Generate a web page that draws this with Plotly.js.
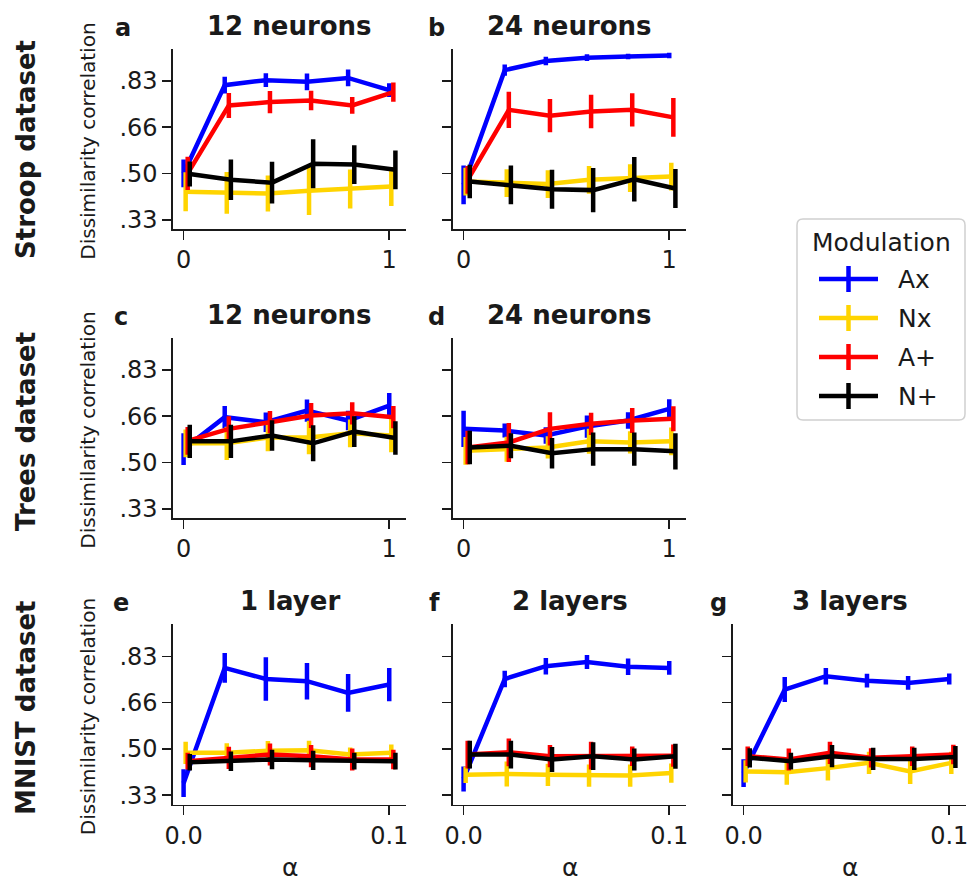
<!DOCTYPE html>
<html>
<head>
<meta charset="utf-8">
<script src="https://cdn.plot.ly/plotly-3.0.1.min.js"></script>
<style>
  html, body { margin: 0; padding: 0; background: #ffffff; }
  #chart { width: 970px; height: 883px; }
</style>
</head>
<body>
<div id="chart"></div>
<script>
// Modulation variants, drawn in this order (later ones on top)
const seriesNames = ['Ax', 'Nx', 'A+', 'N+'];
const seriesColors = ['#0000ff', '#ffd400', '#ff0000', '#000000'];

// Alpha values of the two sweeps
const alphaStroopTrees = [0, 0.2, 0.4, 0.6, 0.8, 1.0];
const alphaMnist = [0, 0.02, 0.04, 0.06, 0.08, 0.1];

// Y axis ticks
const yTickVals = [1 / 3, 1 / 2, 2 / 3, 5 / 6];
const yTickText = ['.33', '.50', '.66', '.83'];

// Mean dissimilarity correlation, one row per modulation (Ax, Nx, A+, N+)
const stroop12Mean = [
  [0.500, 0.818, 0.836, 0.830, 0.844, 0.800],
  [0.434, 0.430, 0.428, 0.438, 0.444, 0.453],
  [0.500, 0.745, 0.757, 0.763, 0.745, 0.793],
  [0.498, 0.477, 0.467, 0.535, 0.532, 0.513]
];
const stroop12Err = [
  [0.050, 0.030, 0.025, 0.030, 0.030, 0.025],
  [0.070, 0.075, 0.065, 0.088, 0.070, 0.070],
  [0.060, 0.045, 0.040, 0.035, 0.030, 0.035],
  [0.045, 0.073, 0.075, 0.088, 0.070, 0.070]
];

const stroop24Mean = [
  [0.459, 0.872, 0.905, 0.917, 0.921, 0.925],
  [0.471, 0.465, 0.462, 0.477, 0.483, 0.489],
  [0.477, 0.729, 0.708, 0.723, 0.729, 0.702],
  [0.471, 0.459, 0.443, 0.440, 0.479, 0.446]
];
const stroop24Err = [
  [0.070, 0.020, 0.015, 0.012, 0.010, 0.010],
  [0.050, 0.050, 0.050, 0.050, 0.050, 0.050],
  [0.050, 0.065, 0.060, 0.060, 0.060, 0.070],
  [0.060, 0.070, 0.070, 0.080, 0.080, 0.070]
];

const trees12Mean = [
  [0.548, 0.663, 0.645, 0.687, 0.651, 0.705],
  [0.569, 0.569, 0.590, 0.590, 0.605, 0.597],
  [0.578, 0.621, 0.645, 0.669, 0.677, 0.663],
  [0.576, 0.576, 0.597, 0.569, 0.611, 0.588]
];
const trees12Err = [
  [0.057, 0.040, 0.035, 0.040, 0.035, 0.045],
  [0.050, 0.060, 0.050, 0.060, 0.050, 0.060],
  [0.050, 0.045, 0.040, 0.045, 0.040, 0.040],
  [0.060, 0.060, 0.055, 0.065, 0.055, 0.060]
];

const trees24Mean = [
  [0.621, 0.615, 0.597, 0.629, 0.651, 0.693],
  [0.542, 0.548, 0.554, 0.576, 0.572, 0.576],
  [0.554, 0.572, 0.621, 0.639, 0.651, 0.657],
  [0.554, 0.560, 0.533, 0.548, 0.548, 0.540]
];
const trees24Err = [
  [0.065, 0.025, 0.030, 0.040, 0.030, 0.035],
  [0.050, 0.045, 0.040, 0.045, 0.040, 0.050],
  [0.060, 0.070, 0.060, 0.040, 0.045, 0.045],
  [0.060, 0.045, 0.055, 0.060, 0.060, 0.065]
];

const mnist1Mean = [
  [0.377, 0.792, 0.752, 0.744, 0.702, 0.732],
  [0.486, 0.486, 0.494, 0.495, 0.480, 0.486],
  [0.456, 0.468, 0.480, 0.474, 0.462, 0.462],
  [0.452, 0.456, 0.462, 0.459, 0.456, 0.456]
];
const mnist1Err = [
  [0.050, 0.054, 0.078, 0.066, 0.068, 0.060],
  [0.040, 0.035, 0.035, 0.035, 0.025, 0.030],
  [0.030, 0.040, 0.040, 0.040, 0.040, 0.035],
  [0.030, 0.035, 0.035, 0.035, 0.030, 0.030]
];

const mnist2Mean = [
  [0.392, 0.752, 0.798, 0.813, 0.796, 0.792],
  [0.407, 0.410, 0.407, 0.404, 0.404, 0.413],
  [0.480, 0.488, 0.474, 0.476, 0.474, 0.476],
  [0.480, 0.480, 0.462, 0.474, 0.462, 0.474]
];
const mnist2Err = [
  [0.045, 0.030, 0.030, 0.025, 0.030, 0.025],
  [0.030, 0.045, 0.040, 0.040, 0.040, 0.035],
  [0.050, 0.050, 0.040, 0.050, 0.035, 0.040],
  [0.050, 0.050, 0.045, 0.050, 0.040, 0.045]
];

const mnist3Mean = [
  [0.413, 0.714, 0.762, 0.746, 0.738, 0.752],
  [0.419, 0.416, 0.431, 0.450, 0.419, 0.450],
  [0.474, 0.462, 0.486, 0.468, 0.474, 0.480],
  [0.468, 0.456, 0.474, 0.464, 0.464, 0.471]
];
const mnist3Err = [
  [0.050, 0.045, 0.030, 0.025, 0.025, 0.020],
  [0.040, 0.045, 0.045, 0.040, 0.045, 0.040],
  [0.035, 0.040, 0.040, 0.035, 0.035, 0.035],
  [0.035, 0.030, 0.040, 0.040, 0.040, 0.040]
];

// Panel titles, letters and row labels
const panelTitles = ['12 neurons', '24 neurons', '12 neurons', '24 neurons', '1 layer', '2 layers', '3 layers'];
const panelLetters = ['a', 'b', 'c', 'd', 'e', 'f', 'g'];
const rowLabels = ['Stroop dataset', 'Trees dataset', 'MNIST dataset'];
const yAxisLabel = 'Dissimilarity correlation';
const xAxisLabel = 'α';
const legendTitle = 'Modulation';

// ---------------------------------------------------------------------------
// Layout geometry (pixels in a 970 x 883 page)
const W = 970, H = 883;
const colLeft = [173, 453, 733];
const colWidth = 233;
const rowTop = [48.5, 337.5, 624];
const rowHeight = 180.5;
const letterX = [123, 121, 121, 436, 436, 434, 718, 718, 718]; // [col*3 + row]

const panels = [
  { mean: stroop12Mean, err: stroop12Err, row: 0, col: 0, alpha: alphaStroopTrees },
  { mean: stroop24Mean, err: stroop24Err, row: 0, col: 1, alpha: alphaStroopTrees },
  { mean: trees12Mean,  err: trees12Err,  row: 1, col: 0, alpha: alphaStroopTrees },
  { mean: trees24Mean,  err: trees24Err,  row: 1, col: 1, alpha: alphaStroopTrees },
  { mean: mnist1Mean,   err: mnist1Err,   row: 2, col: 0, alpha: alphaMnist },
  { mean: mnist2Mean,   err: mnist2Err,   row: 2, col: 1, alpha: alphaMnist },
  { mean: mnist3Mean,   err: mnist3Err,   row: 2, col: 2, alpha: alphaMnist }
];

const FONT = 'DejaVu Sans, Liberation Sans, sans-serif';
const INK = '#1a1a1a';
const LINE_W = 4.5;

const px = x => x / W;
const py = y => 1 - y / H;

const traces = [];
const layout = {
  width: W, height: H,
  margin: { l: 0, r: 0, t: 0, b: 0 },
  paper_bgcolor: '#ffffff',
  plot_bgcolor: '#ffffff',
  showlegend: false,
  font: { family: FONT, color: INK },
  annotations: [],
  shapes: []
};

panels.forEach((p, i) => {
  const n = i + 1;
  const xName = 'x' + (n === 1 ? '' : n);
  const yName = 'y' + (n === 1 ? '' : n);
  const xKey = 'xaxis' + (n === 1 ? '' : n);
  const yKey = 'yaxis' + (n === 1 ? '' : n);
  const aMax = p.alpha[p.alpha.length - 1];
  const dodge = aMax / 100;          // small horizontal shift between series

  p.mean.forEach((vals, s) => {
    traces.push({
      type: 'scatter',
      mode: 'lines',
      x: p.alpha.map(a => a + s * dodge),
      y: vals,
      xaxis: xName, yaxis: yName,
      name: seriesNames[s],
      line: { color: seriesColors[s], width: LINE_W },
      error_y: {
        type: 'data', array: p.err[s], visible: true,
        color: seriesColors[s], thickness: LINE_W, width: 0
      },
      hoverinfo: 'x+y+name'
    });
  });

  const xLo = colLeft[p.col], yTop = rowTop[p.row];
  const span = aMax + 3 * dodge;
  layout[xKey] = {
    domain: [px(xLo), px(xLo + colWidth)],
    anchor: yName,
    range: [-0.05 * span, span * 1.05],
    tickvals: [0, aMax],
    ticktext: aMax === 1 ? ['0', '1'] : ['0.0', '0.1'],
    ticks: 'outside', ticklen: 9, tickwidth: 1.6, tickcolor: INK,
    showline: true, linecolor: INK, linewidth: 1.6,
    showgrid: false, zeroline: false,
    tickfont: { family: FONT, size: 24, color: INK },
    fixedrange: true
  };
  layout[yKey] = {
    domain: [py(yTop + rowHeight), py(yTop)],
    anchor: xName,
    range: [0.30, 0.95],
    tickvals: yTickVals,
    ticktext: yTickText,
    showticklabels: p.col === 0,
    ticks: 'outside', ticklen: 9, tickwidth: 1.6, tickcolor: INK,
    showline: true, linecolor: INK, linewidth: 1.6,
    showgrid: false, zeroline: false,
    tickfont: { family: FONT, size: 24, color: INK },
    fixedrange: true
  };

  const cx = xLo + colWidth / 2;
  // panel title
  layout.annotations.push({
    xref: 'paper', yref: 'paper', x: px(cx), y: py(yTop - 23),
    text: '<b>' + panelTitles[i] + '</b>', showarrow: false,
    xanchor: 'center', yanchor: 'middle',
    font: { family: FONT, size: 26, color: INK }
  });
  // panel letter
  layout.annotations.push({
    xref: 'paper', yref: 'paper', x: px(letterX[p.col * 3 + p.row]), y: py(yTop - 21),
    text: '<b>' + panelLetters[i] + '</b>', showarrow: false,
    xanchor: 'center', yanchor: 'middle',
    font: { family: FONT, size: 24, color: INK }
  });
  // y axis label on first column
  if (p.col === 0) {
    layout.annotations.push({
      xref: 'paper', yref: 'paper', x: px(88), y: py(yTop + rowHeight / 2 + 3),
      text: yAxisLabel, showarrow: false, textangle: -90,
      xanchor: 'center', yanchor: 'middle',
      font: { family: FONT, size: 20, color: INK }
    });
  }
  // alpha label under the last row
  if (p.row === 2) {
    layout.annotations.push({
      xref: 'paper', yref: 'paper', x: px(cx), y: py(867),
      text: xAxisLabel, showarrow: false,
      xanchor: 'center', yanchor: 'middle',
      font: { family: FONT, size: 25, color: INK }
    });
  }
});

// dataset labels at the left edge
const rowLabelY = [150, 432, 708];
rowLabels.forEach((t, r) => {
  layout.annotations.push({
    xref: 'paper', yref: 'paper', x: px(26), y: py(rowLabelY[r]),
    text: '<b>' + t + '</b>', showarrow: false, textangle: -90,
    xanchor: 'center', yanchor: 'middle',
    font: { family: FONT, size: 26, color: INK }
  });
});

// legend box with error-bar glyphs
const lgL = 797, lgR = 965, lgT = 219, lgB = 420, rad = 6;
layout.shapes.push({
  type: 'path', xref: 'paper', yref: 'paper',
  path: [
    'M', px(lgL + rad), py(lgT),
    'L', px(lgR - rad), py(lgT),
    'Q', px(lgR), py(lgT), px(lgR), py(lgT + rad),
    'L', px(lgR), py(lgB - rad),
    'Q', px(lgR), py(lgB), px(lgR - rad), py(lgB),
    'L', px(lgL + rad), py(lgB),
    'Q', px(lgL), py(lgB), px(lgL), py(lgB - rad),
    'L', px(lgL), py(lgT + rad),
    'Q', px(lgL), py(lgT), px(lgL + rad), py(lgT), 'Z'
  ].join(' '),
  line: { color: '#d0d0d0', width: 1.5 },
  fillcolor: '#ffffff'
});
layout.annotations.push({
  xref: 'paper', yref: 'paper', x: px(881), y: py(242),
  text: legendTitle, showarrow: false, xanchor: 'center', yanchor: 'middle',
  font: { family: FONT, size: 25, color: INK }
});
const itemY0 = 279, itemStep = 39;
seriesNames.forEach((name, s) => {
  const yy = itemY0 + s * itemStep;
  layout.shapes.push({
    type: 'line', xref: 'paper', yref: 'paper',
    x0: px(819), x1: px(878), y0: py(yy), y1: py(yy),
    line: { color: seriesColors[s], width: LINE_W }
  });
  layout.shapes.push({
    type: 'line', xref: 'paper', yref: 'paper',
    x0: px(848.5), x1: px(848.5), y0: py(yy - 13), y1: py(yy + 13),
    line: { color: seriesColors[s], width: LINE_W }
  });
  layout.annotations.push({
    xref: 'paper', yref: 'paper', x: px(896), y: py(yy),
    text: name, showarrow: false, xanchor: 'left', yanchor: 'middle',
    font: { family: FONT, size: 25, color: INK }
  });
});

Plotly.newPlot('chart', traces, layout, { displayModeBar: false, staticPlot: true });
</script>
</body>
</html>
